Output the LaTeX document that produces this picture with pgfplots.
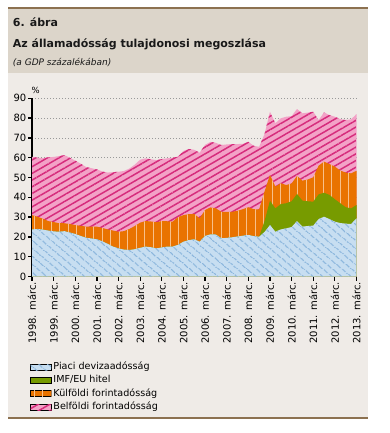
\documentclass[border=0pt]{standalone}
\usepackage{pgfplots}
\pgfplotsset{compat=1.18}
\usepackage{pgfplotstable}
\usepackage{fontspec}
\setmainfont{DejaVu Sans}
\usetikzlibrary{patterns.meta}
\definecolor{pinkbg}{HTML}{F3A2C7}
\definecolor{pinkline}{HTML}{D62C7C}
\definecolor{orng}{HTML}{E97300}
\definecolor{orngline}{HTML}{F8C08A}
\definecolor{grn}{HTML}{779B00}
\definecolor{bluebg}{HTML}{C7DEF1}
\definecolor{blueline}{HTML}{8AB5DC}
\definecolor{panel}{HTML}{EFEBE7}
\definecolor{header}{HTML}{DCD5CA}
\definecolor{brownl}{HTML}{8C7150}
\newcommand{\tickfont}{\fontsize{10bp}{12bp}\selectfont}
\pgfplotstableread{
x B G E T
1998.00 23.8 23.8 31.0 60.5
1998.25 24.0 24.0 30.2 60.0
1998.50 23.7 23.7 29.2 59.8
1998.75 23.2 23.2 28.0 60.2
1999.00 22.8 22.8 27.5 60.4
1999.25 22.6 22.6 26.9 60.8
1999.50 22.9 22.9 26.9 61.3
1999.75 22.2 22.2 26.5 60.0
2000.00 21.5 21.5 26.0 58.5
2000.25 20.5 20.5 25.6 57.0
2000.50 19.6 19.6 25.2 55.3
2000.75 19.2 19.2 25.2 54.7
2001.00 18.8 18.8 25.2 54.1
2001.25 17.8 17.8 24.5 53.0
2001.50 16.5 16.5 23.8 52.5
2001.75 15.1 15.1 23.2 52.7
2002.00 14.2 14.2 22.6 52.9
2002.25 13.6 13.6 22.9 53.3
2002.50 13.4 13.4 24.0 54.5
2002.75 13.8 13.8 25.5 56.5
2003.00 14.5 14.5 27.2 59.0
2003.25 15.1 15.1 28.0 59.7
2003.50 14.8 14.8 27.8 59.2
2003.75 14.2 14.2 27.4 58.8
2004.00 14.7 14.7 28.0 59.3
2004.25 15.1 15.1 27.9 59.7
2004.50 15.1 15.1 27.7 60.0
2004.75 16.0 16.0 30.0 60.5
2005.00 17.6 17.6 31.0 63.4
2005.25 18.4 18.4 31.5 64.4
2005.50 18.8 18.8 31.6 64.0
2005.75 17.6 17.6 29.4 62.5
2006.00 20.5 20.5 33.6 66.5
2006.25 21.3 21.3 34.9 68.0
2006.50 21.2 21.2 34.4 67.5
2006.75 19.3 19.3 32.7 66.4
2007.00 19.5 19.5 32.7 66.7
2007.25 19.8 19.8 32.7 66.9
2007.50 20.2 20.2 33.2 66.9
2007.75 20.6 20.6 34.0 67.0
2008.00 21.0 21.0 35.0 68.0
2008.25 20.4 20.4 34.0 66.0
2008.50 20.1 20.1 33.9 65.5
2008.75 22.5 28.0 43.0 72.0
2009.00 26.0 38.3 51.3 83.2
2009.25 22.6 34.4 45.4 77.4
2009.50 23.8 36.6 47.1 79.9
2009.75 24.3 37.0 46.2 80.7
2010.00 25.0 38.0 47.0 81.0
2010.25 28.0 41.7 50.8 84.6
2010.50 25.2 38.3 48.4 82.4
2010.75 25.5 38.0 49.0 82.8
2011.00 25.7 37.8 50.1 83.2
2011.25 29.0 41.5 56.0 79.0
2011.50 30.2 42.3 58.0 82.9
2011.75 29.0 41.2 56.8 81.5
2012.00 27.7 39.0 55.5 80.7
2012.25 27.0 37.0 53.5 79.5
2012.50 26.7 35.0 52.5 79.0
2012.75 26.5 34.4 52.1 79.4
2013.00 29.4 36.1 53.4 82.0
}\data
\begin{document}
\begin{tikzpicture}
\path[use as bounding box, fill=white] (0,0) rectangle (390bp,-433bp);
\fill[panel] (8bp,-8bp) rectangle (368bp,-418bp);
\fill[header] (8bp,-8bp) rectangle (368bp,-72.5bp);
\draw[brownl, line width=2bp] (8bp,-8bp) -- (368bp,-8bp);
\draw[brownl, line width=2bp] (8bp,-418bp) -- (368bp,-418bp);
\node[anchor=base west, inner sep=0, font=\fontsize{11bp}{13bp}\selectfont\bfseries, text=black!90] at (12.7bp,-26bp) {6. ábra};
\node[anchor=base west, inner sep=0, font=\fontsize{11bp}{13bp}\selectfont\bfseries, text=black!90] at (12.7bp,-47.3bp) {Az államadósság tulajdonosi megoszlása};
\node[anchor=base west, inner sep=0, font=\fontsize{9bp}{11bp}\selectfont\itshape, text=black!90] at (12.7bp,-65.7bp) {(a GDP százalékában)};
\node[anchor=base west, inner sep=0, font=\fontsize{8.5bp}{10bp}\selectfont] at (31.5bp,-93bp) {\%};
\begin{axis}[
  at={(32bp,-276.5bp)}, anchor=south west,
  scale only axis, width=324.5bp, height=178.2bp,
  xmin=1998, xmax=2013, ymin=0, ymax=90,
  axis x line*=bottom, axis y line*=left,
  axis line style={line width=1.8bp, -},
  xtick={1998,...,2013},
  xticklabels={1998. márc.,1999. márc.,2000. márc.,2001. márc.,2002. márc.,2003. márc.,2004. márc.,2005. márc.,2006. márc.,2007. márc.,2008. márc.,2009. márc.,2010. márc.,2011. márc.,2012. márc.,2013. márc.},
  ytick={0,10,...,90},
  tick align=outside,
  major tick length=4bp,
  tick style={line width=1.3bp, black},
  x tick label style={rotate=90, anchor=east, font=\tickfont, inner sep=1.5bp},
  y tick label style={font=\tickfont, inner sep=1.5bp},
  /pgf/number format/assume math mode=true,
  ymajorgrids,
  grid style={gray!80, line width=0.8bp, dash pattern=on 1bp off 2bp},
  legend style={at={(-0.006,-0.48)}, anchor=north west, draw=none, fill=none, inner sep=0pt,
    font=\fontsize{9.6bp}{11bp}\selectfont, row sep=3.8bp,
    nodes={inner xsep=1.5bp, inner ysep=0bp, text height=7.2bp, text depth=2.4bp}},
  legend cell align=left,
  reverse legend,
  legend image code/.code={\draw[#1, draw=black, line width=0.7bp] (0bp,-3bp) rectangle (21bp,3bp);},
]
\addplot[draw=none, fill=pinkbg, postaction={pattern={Lines[angle=30,distance=5.8bp,line width=1.5bp]}, pattern color=pinkline}] table[x=x,y=T] {\data} \closedcycle;
\addlegendentry{Belföldi forintadósság}
\addplot[draw=none, fill=orng, postaction={pattern={Lines[angle=90,distance=8.5bp,line width=0.8bp]}, pattern color=orngline}] table[x=x,y=E] {\data} \closedcycle;
\addlegendentry{Külföldi forintadósság}
\addplot[draw=none, fill=grn] table[x=x,y=G] {\data} \closedcycle;
\addlegendentry{IMF/EU hitel}
\addplot[draw=none, fill=bluebg, postaction={pattern={Lines[angle=-40,distance=6bp,line width=1.2bp]}, pattern color=blueline}] table[x=x,y=B] {\data} \closedcycle;
\addlegendentry{Piaci devizaadósság}
\end{axis}
\end{tikzpicture}
\end{document}
